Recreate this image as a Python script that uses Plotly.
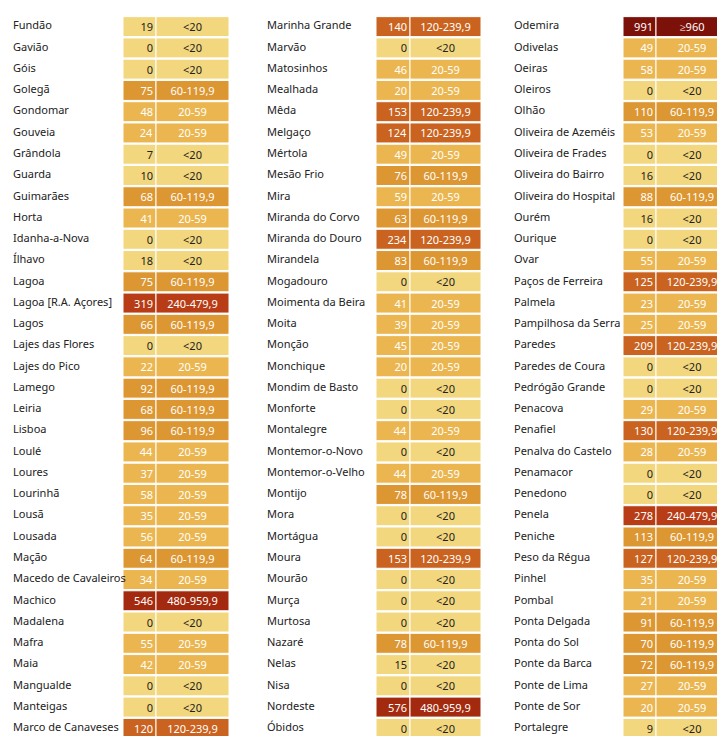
import plotly.graph_objects as go

names1 = ["Fundão","Gavião","Góis","Golegã","Gondomar","Gouveia","Grândola","Guarda","Guimarães","Horta","Idanha-a-Nova","Ílhavo","Lagoa","Lagoa [R.A. Açores]","Lagos","Lajes das Flores","Lajes do Pico","Lamego","Leiria","Lisboa","Loulé","Loures","Lourinhã","Lousã","Lousada","Mação","Macedo de Cavaleiros","Machico","Madalena","Mafra","Maia","Mangualde","Manteigas","Marco de Canaveses"]
vals1 = [19,0,0,75,48,24,7,10,68,41,0,18,75,319,66,0,22,92,68,96,44,37,58,35,56,64,34,546,0,55,42,0,0,120]
names2 = ["Marinha Grande","Marvão","Matosinhos","Mealhada","Mêda","Melgaço","Mértola","Mesão Frio","Mira","Miranda do Corvo","Miranda do Douro","Mirandela","Mogadouro","Moimenta da Beira","Moita","Monção","Monchique","Mondim de Basto","Monforte","Montalegre","Montemor-o-Novo","Montemor-o-Velho","Montijo","Mora","Mortágua","Moura","Mourão","Murça","Murtosa","Nazaré","Nelas","Nisa","Nordeste","Óbidos"]
vals2 = [140,0,46,20,153,124,49,76,59,63,234,83,0,41,39,45,20,0,0,44,0,44,78,0,0,153,0,0,0,78,15,0,576,0]
names3 = ["Odemira","Odivelas","Oeiras","Oleiros","Olhão","Oliveira de Azeméis","Oliveira de Frades","Oliveira do Bairro","Oliveira do Hospital","Ourém","Ourique","Ovar","Paços de Ferreira","Palmela","Pampilhosa da Serra","Paredes","Paredes de Coura","Pedrógão Grande","Penacova","Penafiel","Penalva do Castelo","Penamacor","Penedono","Penela","Peniche","Peso da Régua","Pinhel","Pombal","Ponta Delgada","Ponta do Sol","Ponte da Barca","Ponte de Lima","Ponte de Sor","Portalegre"]
vals3 = [991,49,58,0,110,53,0,16,88,16,0,55,125,23,25,209,0,0,29,130,28,0,0,278,113,127,35,21,91,70,72,27,20,9]

bins = [20, 60, 120, 240, 480, 960]
bin_labels = ["<20","20-59","60-119,9","120-239,9","240-479,9","480-959,9","≥960"]
bin_colors = ["#F2D77E","#EBB650","#DC9632","#C9631F","#B83C15","#A32A0E","#7B1109"]

def idx(v):
    for i, b in enumerate(bins):
        if v < b:
            return i
    return len(bins)

FONT = "Noto Sans"
# layout per group: (name x, number cell start, number width, category width)
group_layout = [(5, 115, 33, 73), (259, 368, 34, 71), (506, 615, 33, 72)]
groups = [(names1, vals1), (names2, vals2), (names3, vals3)]

fig = go.Figure()
for (nm, vl), (nx, cx, nw, cw) in zip(groups, group_layout):
    rows = list(range(len(nm)))
    ids = [idx(v) for v in vl]
    colors = [bin_colors[i] for i in ids]
    tcol = ["#222222" if i == 0 else "white" for i in ids]
    fig.add_trace(go.Scatter(x=[nx]*len(nm), y=rows, mode="text", text=nm,
                             textposition="middle right",
                             textfont=dict(family=FONT, size=11, color="#222222"),
                             hoverinfo="skip", cliponaxis=False))
    fig.add_trace(go.Bar(orientation="h", y=rows, x=[nw]*len(nm), base=[cx]*len(nm),
                         marker=dict(color=colors, line=dict(color="white", width=1)),
                         text=[str(v) for v in vl], textposition="inside",
                         insidetextanchor="end", textangle=0,
                         textfont=dict(family=FONT, size=11, color=tcol),
                         hoverinfo="skip"))
    fig.add_trace(go.Bar(orientation="h", y=rows, x=[cw]*len(nm), base=[cx+nw]*len(nm),
                         marker=dict(color=colors, line=dict(color="white", width=1)),
                         text=[bin_labels[i] for i in ids], textposition="inside",
                         insidetextanchor="middle", textangle=0,
                         textfont=dict(family=FONT, size=11, color=tcol),
                         hoverinfo="skip"))

fig.update_layout(width=725, height=736, margin=dict(l=0, r=0, t=0, b=0),
                  paper_bgcolor="white", plot_bgcolor="white", showlegend=False,
                  barmode="overlay", bargap=0.06,
                  uniformtext=dict(minsize=11, mode="show"),
                  xaxis=dict(range=[0, 725], visible=False, fixedrange=True),
                  yaxis=dict(range=[33.735, -0.876], visible=False, fixedrange=True))
fig.write_html("out.html")
